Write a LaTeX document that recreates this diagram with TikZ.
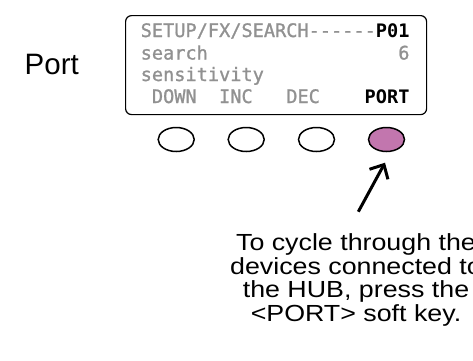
\documentclass[tikz,border=0pt]{standalone}
\usepackage{fontspec}
\setmainfont{Liberation Sans}
\newfontfamily\notefont[FakeStretch=1.15]{Liberation Sans}
\newfontfamily\lcdfont[FakeBold=1.2]{DejaVu Sans Mono}
\newfontfamily\lcdboldfont{DejaVu Sans Mono Bold}
\usetikzlibrary{arrows.meta,shapes.geometric}
\definecolor{lcdgray}{RGB}{145,145,145}
\definecolor{keypink}{RGB}{194,118,174}
\begin{document}
\begin{tikzpicture}[x=1pt,y=-1pt,
  lcd/.style={anchor=base west, inner sep=0pt, text=lcdgray, font=\lcdfont\fontsize{18.6}{18.6}\selectfont},
  lcdb/.style={lcd, text=black, font=\lcdboldfont\fontsize{18.6}{18.6}\selectfont},
  softkey/.style={draw, ellipse, line width=1.5pt, minimum width=36pt, minimum height=24pt, inner sep=0pt},
  note/.style={anchor=base, inner sep=0pt, font=\notefont\fontsize{23.3}{23.3}\selectfont}
]
\useasboundingbox (0,0) rectangle (473,360);
\clip (0,0) rectangle (473,360);
% label
\node[anchor=base west, inner sep=0pt, font=\fontsize{29.5}{29.5}\selectfont] (port) at (24.5,74.5) {Port};
% LCD
\node[draw, rounded corners=6pt, line width=1.2pt, minimum width=301pt, minimum height=99pt, inner sep=0pt, anchor=north west] (lcd) at (125,15) {};
\node[lcd] (r1a) at (140.5,37) {SETUP/FX/SEARCH------};
\node[lcdb] (r1b) at ({140.5+21*11.2},37) {P01};
\node[lcd] (r2a) at (140.5,59.5) {search};
\node[lcd] (r2b) at ({140.5+23*11.2},59.5) {6};
\node[lcd] (r3a) at (140.5,81) {sensitivity};
\node[lcd] (r4a) at ({140.5+1*11.2},103) {DOWN};
\node[lcd] (r4b) at ({140.5+7*11.2},103) {INC};
\node[lcd] (r4c) at ({140.5+13*11.2},103) {DEC};
\node[lcdb] (r4d) at ({140.5+20*11.2},103) {PORT};
% soft keys
\node[softkey] (k1) at (176.2,139.5) {};
\node[softkey] (k2) at (246.2,139.5) {};
\node[softkey] (k3) at (316.5,139.5) {};
\node[softkey, fill=keypink] (k4) at (386.5,139.5) {};
% arrow
\coordinate (tail) at (358.3,211.7);
\coordinate (tip) at (385,162.7);
\draw[line width=3pt, -{Straight Barb[length=11pt,width=21pt]}] (tail) -- (tip);
% note
\node[note] (t1) at (356,250.5) {To cycle through the};
\node[note] (t2) at (356,274) {devices connected to};
\node[note] (t3) at (356,297.5) {the HUB, press the};
\node[note] (t4) at (356,321) {<PORT> soft key.};
\end{tikzpicture}
\end{document}
